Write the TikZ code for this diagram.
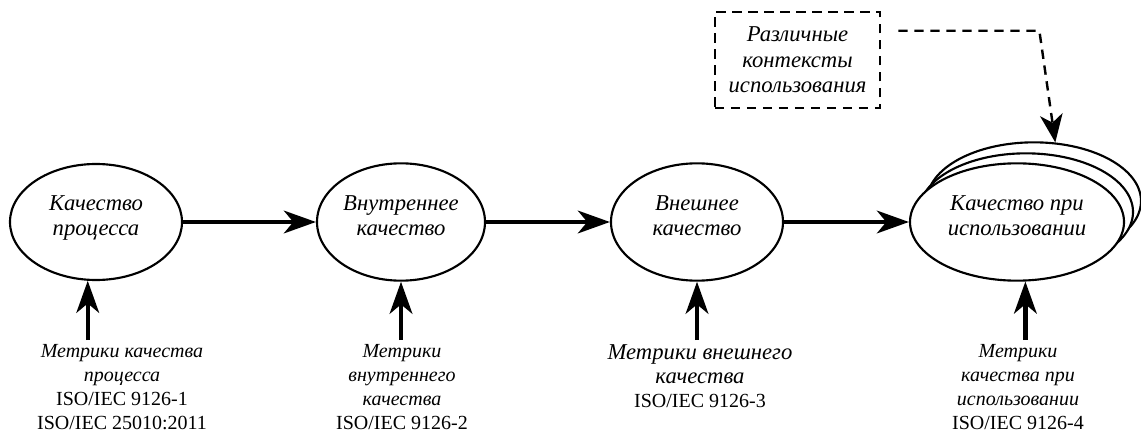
\documentclass[tikz,border=0pt]{standalone}
\usepackage{fontspec}
\setmainfont{Liberation Serif}
\usetikzlibrary{shapes.geometric, positioning, calc, arrows.meta}
\newcommand{\fsize}{\fontsize{15}{18}\selectfont}
\newcommand{\isize}{\fontsize{17}{19}\selectfont\itshape}
\newcommand{\rus}[2][15]{{\fontsize{#1}{18}\selectfont\itshape #2}}
\tikzset{
    quality/.style = {draw, ellipse, line width=1.6pt, fill=white, minimum width=129pt, minimum height=88pt, inner sep=0pt, text depth=10pt, align=center, font=\isize},
    metric/.style = {align=center, inner sep=0pt, anchor=north, font=\fsize},
    ctxbox/.style = {draw, line width=1.8pt, dash pattern=on 7pt off 5pt, minimum width=124pt, minimum height=72pt, align=center, font=\isize},
    flow/.style = {-{Stealth[length=24pt, width=17pt, inset=7pt]}, line width=3.2pt},
    ctxarrow/.style = {-{Stealth[length=21pt, width=17pt, inset=6pt]}, line width=1.8pt, dash pattern=on 7pt off 5pt},
}
\begin{document}
\begin{tikzpicture}[x=0.75pt, y=0.75pt]
        \useasboundingbox (0,0) rectangle (1141,436);
        % Qualities
        \node (e1) [quality, minimum height=87pt] at (96,214) {Качество\\процесса};
        \node (e2) [quality, minimum width=126pt] at (401,214) {Внутреннее\\качество};
        \node (e3) [quality] at (697,214) {Внешнее\\качество};
        \node (e4c) [quality, minimum width=160.5pt] at (1034,235) {};
        \node (e4b) [quality, minimum width=160.5pt] at (1026,224) {};
        \node (e4) [quality, minimum width=160.5pt] at (1017,214) {Качество при\\использовании};
        % Contexts
        \node (ctx) [ctxbox] at (797.5,376) {Различные\\контексты\\использования};
        \coordinate (ctxout) at ($(ctx.north east) + (17,-20)$);
        \coordinate (ctxbend) at ($(ctxout) + (141,0)$);
        % Metrics
        \node (m1) [metric] at (122,92) {\rus{Метрики качества}\\\rus{процесса}\\ISO/IEC 9126-1\\ISO/IEC 25010:2011};
        \node (m2) [metric] at (402,92) {\rus{Метрики}\\\rus{внутреннего}\\\rus{качества}\\ISO/IEC 9126-2};
        \node (m3) [metric] at (700,92) {\rus[17]{Метрики внешнего}\\\rus[17]{качества}\\ISO/IEC 9126-3};
        \node (m4) [metric] at (1018,92) {\rus{Метрики}\\\rus{качества при}\\\rus{использовании}\\ISO/IEC 9126-4};
        % links
        \draw[flow] (e1.east) -- (e2.west);
        \draw[flow] (e2.east) -- (e3.west);
        \draw[flow] (e3.east) -- (e4.west);
        \draw[flow] ([yshift=3pt]m1.north -| e1.262) -- (e1.262);
        \draw[flow] ([yshift=3pt]m2.north -| e2.south) -- (e2.south);
        \draw[flow] ([yshift=3pt]m3.north -| e3.south) -- (e3.south);
        \draw[flow] ([yshift=3pt]m4.north -| e4.278) -- (e4.278);
        \draw[ctxarrow] (ctxout) -- (ctxbend) -- (e4c.70);
\end{tikzpicture}
\end{document}
